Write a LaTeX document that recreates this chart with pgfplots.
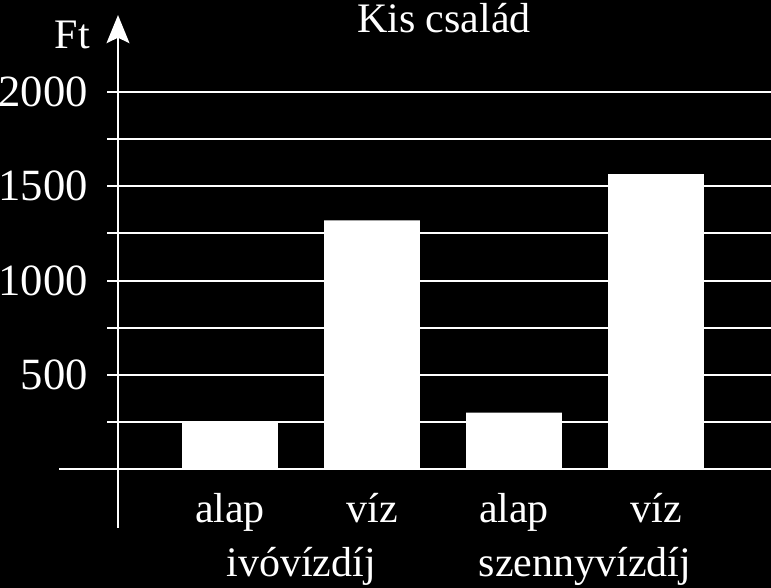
\documentclass[border=0pt]{standalone}
\usepackage{fontspec}
\setmainfont{Liberation Serif}
\usepackage{pgfplots}
\pgfplotsset{compat=1.18}
\usetikzlibrary{arrows.meta}

% canvas: 771x588 px, 1px = 0.75pt
% x data = 1 + (px-230)/142 ; y data = (469.3-py)/0.18865
\newcommand{\bigfont}{\fontsize{31.5}{37}\selectfont}
\newcommand{\numfont}{\fontsize{33.5}{40}\selectfont}

\begin{document}
\begin{tikzpicture}
\begin{axis}[
  scale only axis,
  width=578.25pt, height=441pt,
  xmin=-0.6197, xmax=4.8099,
  ymin=-629.2, ymax=2487.7,
  clip=false,
  axis background/.style={fill=black},
  axis line style={draw=none},
  tick style={draw=none},
  major tick length=0pt,
  xtick={1,2,3,4},
  xticklabels={alap,víz,alap,víz},
  ytick={500,1000,1500,2000},
  /pgf/number format/assume math mode=true,
  /pgf/number format/1000 sep={},
  ticklabel style={text=white, inner sep=0pt},
  xticklabel style={font=\bigfont, anchor=base, yshift=48.75pt},
  yticklabel style={font=\numfont, anchor=east, xshift=66pt},
]
% grid lines
\pgfplotsinvokeforeach{250,500,750,1000,1250,1500,1750,2000}{
  \addplot[white, line width=1.5pt, forget plot] coordinates {(0.134,#1)(4.81,#1)};
}
% bars
\addplot[ybar, bar width=0.676, fill=white, draw=none] coordinates {
  (1,250)(2,1320)(3,300)(4,1565)
};
% axes
\draw[white, line width=1.7pt] (axis cs:-0.2042,0) -- (axis cs:4.81,0);
\draw[white, line width=2.2pt, -{Stealth[width=17pt, length=21pt, inset=4pt]}]
  (axis cs:0.2113,-311) -- (axis cs:0.2113,2408);
% texts
\node[anchor=base, text=white, font=\bigfont, inner sep=0pt] at (axis cs:2.507,2318) {Kis család};
\node[anchor=base east, text=white, font=\bigfont, inner sep=0pt] at (axis cs:0.0141,2233) {Ft};
\node[anchor=base, text=white, font=\bigfont, inner sep=0pt] at (axis cs:1.5,-570.9) {ivóvízdíj};
\node[anchor=base, text=white, font=\bigfont, inner sep=0pt] at (axis cs:3.5,-570.9) {szennyvízdíj};
\end{axis}
\pgfresetboundingbox
\path[use as bounding box] (current axis.south west) rectangle (current axis.north east);
\end{tikzpicture}
\end{document}
